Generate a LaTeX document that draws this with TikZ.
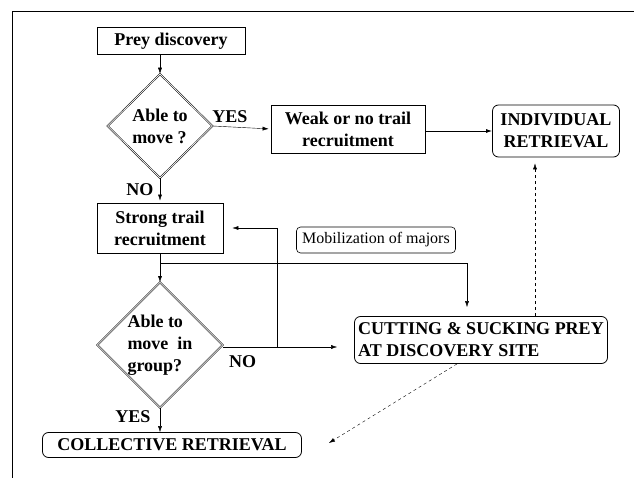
\documentclass[tikz,border=0pt]{standalone}
\usepackage{fontspec}
\setmainfont{Liberation Serif}
\usetikzlibrary{shapes.geometric, arrows.meta}

\begin{document}
\begin{tikzpicture}[x=1pt, y=-1pt, >={Latex[length=6pt, width=4pt]},
		font=\fontsize{18}{22}\selectfont\bfseries,
		stepbox/.style={draw, line width=0.8pt, inner sep=2pt, align=center},
		endbox/.style={stepbox, rounded corners=6pt},
		choice/.style={diamond, draw, double, double distance=0.7pt, line width=0.5pt, inner sep=0pt, align=left},
		answer/.style={font=\fontsize{18}{22}\selectfont\bfseries}]
		
		%definition of the page
		\useasboundingbox (0,0) rectangle (634,478);
		\draw [line width=0.9pt] (634,11) -- (12,11) -- (12,478);
		
		%definition of column positions
		\def\xL{160};
		\def\xR{481};
		
		%steps on the left
		\node [stepbox, minimum width=148, minimum height=27] (prey) at (171,41) {Prey discovery};
		\node [choice, minimum width=105, minimum height=104] (move) at (\xL,126) {Able to\\move ?};
		\node [stepbox, minimum width=126, minimum height=50] (strong) at (\xL,228) {Strong trail\\recruitment};
		\node [choice, minimum width=125, minimum height=124] (group) at (\xL,345) {Able to\\move~~in\\group?};
		\node [endbox, minimum width=259, minimum height=25] (collective) at (172,445) {COLLECTIVE RETRIEVAL};
		
		%steps on the right
		\node [stepbox, minimum width=154, minimum height=48] (weak) at (348,129) {Weak or no trail\\recruitment};
		\node [endbox, minimum width=127, minimum height=52] (individual) at (556,131) {INDIVIDUAL\\RETRIEVAL};
		\node [endbox, minimum width=253, minimum height=47, align=left] (cutting) at (\xR,340) {CUTTING \& SUCKING PREY\\AT DISCOVERY SITE};
		\node [endbox, line width=0.6pt, rounded corners=4pt, font=\fontsize{16}{19}\selectfont, minimum width=159, minimum height=26] (majors) at (376,240) {Mobilization of majors};
		
		%first choice
		\draw [->] (move.north |- prey.south) -- (move.north);
		\draw [->, shorten >=2pt] (move.east) -- (weak.west) node [answer, pos=0, above right, xshift=-4pt] {YES};
		\draw [->, shorten >=2pt] (move.south) -- (strong.north) node [answer, pos=0.4, left, xshift=-3pt, yshift=-2pt] {NO};
		\draw [->, line width=0.8pt] (weak.east |- individual.west) -- (individual.west);
		
		%second choice
		\coordinate (split) at (\xL,263);
		\draw [->] (strong.south) -- (group.north);
		\draw [->, shorten >=9pt] (split) -| ([xshift=-14pt]cutting.north);
		\draw [->, shorten >=17pt] ([yshift=-2pt]group.east) -- ([yshift=-2pt]group.east -| cutting.west) node [answer, pos=0.02, below right, yshift=-5pt] {NO};
		\draw [->, shorten >=9pt] ([xshift=54pt, yshift=-2pt]group.east) |- (strong.east);
		\draw [->] (group.south) -- (group.south |- collective.north) node [answer, midway, left, xshift=-6pt, yshift=3pt] {YES};
		
		%dashed alternatives
		\draw [->, dashed] ([xshift=-24pt]cutting.south) -- ([xshift=27pt, yshift=2pt]collective.east);
		\draw [->, dashed, shorten >=6pt] ([xshift=54pt]cutting.north) -- ([xshift=-21pt]individual.south);
		
	\end{tikzpicture}
\end{document}
